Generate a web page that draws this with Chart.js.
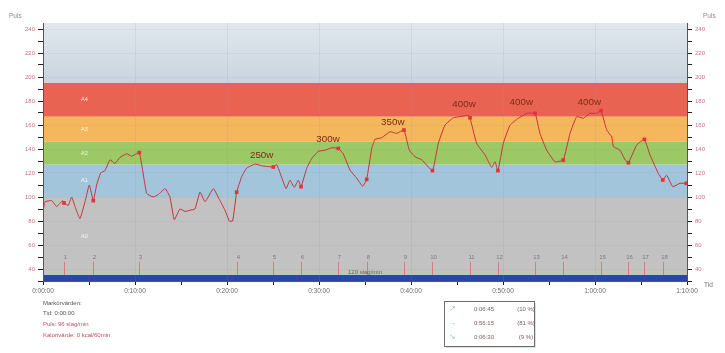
<!DOCTYPE html>
<html>
<head>
<meta charset="utf-8">
<script src="https://cdn.jsdelivr.net/npm/chart.js@4/dist/chart.umd.min.js"></script>
<style>
  html, body { margin: 0; padding: 0; background: #fff; }
  #wrap { width: 725px; height: 353px; }
</style>
</head>
<body>
<div id="wrap"><canvas id="pulse" width="725" height="353"></canvas></div>
<script>
const FONT = "'Liberation Sans', Arial, sans-serif";

// heart rate trace (seconds, bpm)
const timeSec = [0,13,57,89,128,137,165,187,209,241,
  274,302,328,350,376,404,437,470,502,546,
  578,628,676,719,752,796,828,856,893,926,
  959,991,1024,1057,1111,1154,1187,1215,1237,1263,
  1296,1328,1383,1426,1502,1524,1546,1585,1611,1639,
  1665,1683,1720,1752,1795,1839,1883,1926,1958,2002,
  2046,2085,2111,2144,2165,2209,2263,2307,2354,2389,
  2426,2470,2540,2578,2622,2676,2720,2774,2785,2828,
  2883,2926,2948,2967,3002,3046,3100,3155,3209,3241,
  3285,3339,3393,3437,3481,3524,3567,3611,3639,3676,
  3709,3720,3763,3796,3818,3872,3922,3959,4013,4042,
  4067,4107,4154,4195];
const heartRate = [88,96,97,92,97,95,93,100,92,82,
  96,110,97,110,120,122,131,128,133,136,
  134,137,103,100,102,107,100,81,90,88,
  89,90,104,96,107,97,89,80,80,104,
  117,124,127.5,126,125,127,120,107,114,108,
  114,108.6,124,132,138,139,141,140.5,136,122.5,
  115.6,109,114.7,140.5,148,149.4,154.4,153,155.8,139,
  133.6,131,122,144.7,160,166,167,168,166,144.7,
  135,124.7,129.4,122,144.7,160,165.6,169.7,169.7,153,
  139,129.4,130.8,153,167,165.6,169.7,169.7,172,156,
  150,142,139,131,128.6,143.3,148,135,119.7,114.2,
  118.3,108.6,111.4,111.4];

// lap markers
const markerTimes = [137,328,628,1263,1502,1683,1926,2111,2354,2540,2785,2967,3209,3393,3639,3818,3922,4042,4195];
const markerBpm = [95,97,137,104,125,108.6,140.5,114.7,155.8,122,166,122,169.7,130.8,172,128.6,148,114.2,111.4];
const markerNames = ['1','2','3','4','5','6','7','8','9','10','11','12','13','14','15','16','17','18',''];

// pulse zones
const zoneNames = ['A0','A1','A2','A3','A4'];
const zoneLimits = [35,100,127,146,167,195];
const zoneColors = ['#c2c2c2','#a3c5dc','#9cc965','#f5b75c','#ea6352'];

// power annotations
const powerLabels = ['250w','300w','350w','400w','400w','400w'];
const powerTimes = [1426,1859,2281,2746,3119,3563];
const powerBpm = [135,148.3,162,177.5,179,179];

// zone time summary
const summaryArrows = ['\u2197','\u2192','\u2198'];
const summaryTimes = ['0:06:45','0:56:15','0:06:30'];
const summaryShares = ['(10 %)','(81 %)','(9 %)'];

function fmtTime(s) {
  const h = Math.floor(s / 3600);
  const m = Math.floor((s % 3600) / 60);
  const sec = s % 60;
  return h + ':' + String(m).padStart(2, '0') + ':' + String(sec).padStart(2, '0');
}

const overlay = {
  id: 'overlay',
  beforeDraw(chart) {
    const {ctx, chartArea: a, scales: {x, y}} = chart;
    ctx.save();
    // sky above top zone
    const top = y.getPixelForValue(245), z4 = y.getPixelForValue(195);
    const g = ctx.createLinearGradient(0, top, 0, z4);
    g.addColorStop(0, '#e1e8ef');
    g.addColorStop(1, '#c9d4de');
    ctx.fillStyle = g;
    ctx.fillRect(a.left, top, a.right - a.left, z4 - top);
    zoneNames.forEach((n, i) => {
      const y1 = y.getPixelForValue(zoneLimits[i + 1]);
      const y0 = y.getPixelForValue(zoneLimits[i]);
      ctx.fillStyle = zoneColors[i];
      ctx.fillRect(a.left, y1, a.right - a.left, y0 - y1);
    });
    // blue band at the bottom
    const b1 = y.getPixelForValue(35), b0 = y.getPixelForValue(30);
    ctx.fillStyle = '#2548aa';
    ctx.fillRect(a.left, b1, a.right - a.left, b0 - b1);
    // zone names
    ctx.fillStyle = 'rgba(255,255,255,0.9)';
    ctx.font = '5.5px ' + FONT;
    ctx.textAlign = 'center';
    ctx.textBaseline = 'middle';
    zoneNames.forEach((n, i) => {
      const yc = y.getPixelForValue((zoneLimits[i] + zoneLimits[i + 1]) / 2);
      ctx.fillText(n, x.getPixelForValue(270), yc);
    });
    ctx.restore();
  },
  beforeDatasetsDraw(chart) {
    const {ctx, chartArea: a, scales: {x, y}} = chart;
    ctx.save();
    ctx.font = '6px ' + FONT;
    ctx.textAlign = 'center';
    ctx.textBaseline = 'middle';
    markerNames.forEach((n, i) => {
      if (!n) return;
      const px = Math.round(x.getPixelForValue(markerTimes[i])) + 0.5;
      ctx.strokeStyle = '#d87a80';
      ctx.lineWidth = 1;
      ctx.beginPath();
      ctx.moveTo(px, y.getPixelForValue(46));
      ctx.lineTo(px, y.getPixelForValue(35));
      ctx.stroke();
      ctx.fillStyle = '#7a7a7a';
      ctx.fillText(n, px + 1, y.getPixelForValue(50));
    });
    ctx.fillStyle = '#666';
    ctx.fillText('120 slag/min', (a.left + a.right) / 2, y.getPixelForValue(37.5));
    ctx.restore();
  },
  afterDraw(chart) {
    const {ctx, scales: {x, y}} = chart;
    ctx.save();
    ctx.font = '9.8px ' + FONT;
    ctx.fillStyle = '#7b2b14';
    ctx.textAlign = 'center';
    ctx.textBaseline = 'middle';
    powerLabels.forEach((t, i) => {
      ctx.fillText(t, x.getPixelForValue(powerTimes[i]), y.getPixelForValue(powerBpm[i]));
    });

    ctx.font = '6.5px ' + FONT;
    ctx.textAlign = 'left';
    ctx.fillStyle = '#9a8494';
    ctx.fillText('Puls', 9, 16);
    ctx.fillText('Puls', 703, 16);
    ctx.fillStyle = '#777';
    ctx.fillText('Tid', 704, 285);

    ctx.font = '6px ' + FONT;
    ctx.fillStyle = '#555';
    ctx.fillText('Markörvärden:', 43, 303);
    ctx.fillText('Tid: 0:00:00', 43, 313);
    ctx.fillStyle = '#c0505c';
    ctx.fillText('Puls: 96 slag/min', 43, 324);
    ctx.fillText('Kalorivärde: 0 kcal/60min', 43, 335);

    // summary box
    ctx.fillStyle = 'rgba(0,0,0,0.12)';
    ctx.fillRect(446, 303, 90, 45);
    ctx.fillStyle = '#fff';
    ctx.fillRect(444, 301, 90, 45);
    ctx.strokeStyle = '#6d6d6d';
    ctx.lineWidth = 1;
    ctx.strokeRect(444.5, 301.5, 90, 45);
    summaryTimes.forEach((t, i) => {
      const yy = 309 + i * 14;
      ctx.fillStyle = '#8fd0b8';
      ctx.font = '8px ' + FONT;
      ctx.textAlign = 'center';
      ctx.fillText(summaryArrows[i], 452, yy);
      ctx.font = '6px ' + FONT;
      ctx.fillStyle = '#7a5a5a';
      ctx.fillText(t, 484, yy);
      ctx.fillText(summaryShares[i], 526, yy);
    });
    ctx.restore();
  }
};

const yTicks = {
  stepSize: 10,
  includeBounds: false,
  color: '#c8727f',
  font: {size: 6, family: FONT},
  padding: 3,
  callback: v => (v % 20 === 0 && v >= 40) ? String(v) : ''
};
const yGrid = {
  color: c => (c.tick && c.tick.value % 20 === 0) ? 'rgba(140,150,160,0.12)' : 'transparent',
  tickColor: '#222',
  tickLength: 5
};

new Chart(document.getElementById('pulse'), {
  type: 'line',
  data: {
    datasets: [
      {
        data: markerTimes.map((t, i) => ({x: t, y: markerBpm[i]})),
        showLine: false,
        pointStyle: 'rect',
        pointRadius: 2.6,
        backgroundColor: '#e33238',
        borderColor: '#e33238',
        borderWidth: 0,
        order: 0
      },
      {
        data: timeSec.map((t, i) => ({x: t, y: heartRate[i]})),
        borderColor: '#c8323a',
        borderWidth: 1,
        pointRadius: 0,
        tension: 0.12,
        fill: false,
        order: 1
      }
    ]
  },
  options: {
    responsive: false,
    animation: false,
    devicePixelRatio: 1,
    layout: {padding: {top: 23, left: 0, right: 0, bottom: 0}},
    plugins: {legend: {display: false}, tooltip: {enabled: false}},
    scales: {
      x: {
        type: 'linear',
        min: 0,
        max: 4200,
        ticks: {
          stepSize: 300,
          autoSkip: false,
          maxRotation: 0,
          color: '#6a6a6a',
          font: {size: 6.5, family: FONT},
          padding: 2,
          callback: v => v % 600 === 0 ? fmtTime(v) : ''
        },
        grid: {
          color: c => (c.tick && c.tick.value % 600 === 0) ? 'rgba(140,150,160,0.16)' : 'transparent',
          tickColor: '#222',
          tickLength: 4
        },
        border: {color: '#555'},
        afterFit: s => { s.height = 72; }
      },
      y: {
        position: 'left',
        min: 30,
        max: 245,
        ticks: yTicks,
        grid: yGrid,
        border: {color: '#555'},
        afterFit: s => { s.width = 43; }
      },
      y2: {
        position: 'right',
        min: 30,
        max: 245,
        ticks: yTicks,
        grid: Object.assign({}, yGrid, {drawOnChartArea: false}),
        border: {color: '#555'},
        afterFit: s => { s.width = 38; }
      }
    }
  },
  plugins: [overlay]
});
</script>
</body>
</html>
